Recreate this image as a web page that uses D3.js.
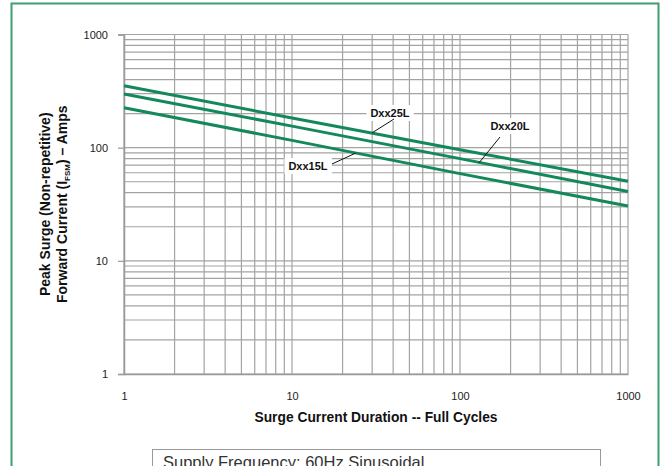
<!DOCTYPE html>
<html><head><meta charset="utf-8">
<script src="https://cdn.jsdelivr.net/npm/d3@7"></script>
<style>
html,body{margin:0;padding:0;background:#fff;}
svg{display:block;font-family:"Liberation Sans",Arial,Helvetica,sans-serif;}
</style></head>
<body><svg id="c" width="662" height="466"></svg>
<script>
// ---- data ----
const cycles = [1, 10, 100, 1000];
const seriesNames = ["Dxx25L", "Dxx20L", "Dxx15L"];
const dxx25L = [352, 183, 96, 50.5];
const dxx20L = [298, 155, 80, 41];
const dxx15L = [225, 116, 59, 30.5];
const xTickLabels = [1, 10, 100, 1000];
const yTickLabels = [1, 10, 100, 1000];
const noteText = "Supply Frequency: 60Hz Sinusoidal";

const svg = d3.select("#c");
const x = d3.scaleLog().domain([1, 1000]).range([124, 628]);
const y = d3.scaleLog().domain([1, 1000]).range([374, 34.5]);

// outer green frame
svg.append("rect").attr("x", 11.5).attr("y", 3.5).attr("width", 647).attr("height", 480)
  .attr("fill", "none").attr("stroke", "#3f9e70").attr("stroke-width", 2);

// grid
const g = svg.append("g");
g.selectAll("line.vx").data(x.ticks()).join("line")
  .attr("x1", d => x(d)).attr("x2", d => x(d))
  .attr("y1", y(1000)).attr("y2", y(1))
  .attr("stroke", "#a3a3a3").attr("stroke-width", 1.2);
g.selectAll("line.hy").data(y.ticks()).join("line")
  .attr("y1", d => y(d)).attr("y2", d => y(d))
  .attr("x1", x(1)).attr("x2", x(1000))
  .attr("stroke", "#a3a3a3").attr("stroke-width", 1.2);

// axes
const yAxis = d3.axisLeft(y).tickValues(yTickLabels).tickFormat(d3.format("d")).tickSize(6).tickPadding(10);
const ya = svg.append("g").attr("transform", `translate(${x(1)},0)`).call(yAxis);
ya.select(".domain").attr("stroke", "#999").attr("stroke-width", 1.5);
ya.selectAll(".tick line").attr("stroke", "#999").attr("stroke-width", 1.2);
ya.selectAll("text").attr("font-size", 11).attr("fill", "#222");

const xAxis = d3.axisBottom(x).tickValues(xTickLabels).tickFormat(d3.format("d")).tickSize(0).tickPadding(18);
const xa = svg.append("g").attr("transform", `translate(0,${y(1)})`).call(xAxis);
xa.select(".domain").attr("stroke", "#999").attr("stroke-width", 1.5);
xa.selectAll("text").attr("font-size", 11).attr("fill", "#222");

// series lines
const allSeries = [dxx25L, dxx20L, dxx15L];
const line = d3.line().x((d, i) => x(cycles[i])).y(d => y(d));
svg.append("g").selectAll("path").data(allSeries).join("path")
  .attr("d", d => line(d)).attr("fill", "none")
  .attr("stroke", "#13885a").attr("stroke-width", 3);

// series labels with leaders
const labelPos = [
  {t: seriesNames[0], cx: 390, cy: 113, lx1: 394, ly1: 119, px: 30},
  {t: seriesNames[1], cx: 510, cy: 126, lx1: 500, ly1: 137, px: 130},
  {t: seriesNames[2], cx: 308, cy: 166, lx1: 332, ly1: 164, px: 24}
];
const logInterp = d3.scaleLog().domain([1, 1000]).range([0, 1]);
labelPos.forEach((p, i) => {
  const lg = svg.append("g");
  const tx = lg.append("text").attr("x", p.cx).attr("y", p.cy + 4)
    .attr("text-anchor", "middle").attr("font-size", 11).attr("font-weight", "bold")
    .attr("fill", "#111").text(p.t);
  const bb = tx.node().getBBox();
  lg.insert("rect", "text").attr("x", bb.x - 4).attr("y", bb.y - 2)
    .attr("width", bb.width + 8).attr("height", bb.height + 4).attr("fill", "#fff");
  const s = allSeries[i];
  const f = logInterp(p.px);
  const lv = Math.log10(s[0]) + f * (Math.log10(s[3]) - Math.log10(s[0]));
  const lx = x(p.px), ly = y(Math.pow(10, lv));
  lg.append("line").attr("x1", p.lx1).attr("y1", p.ly1).attr("x2", lx).attr("y2", ly)
    .attr("stroke", "#111").attr("stroke-width", 1);
});

// axis titles
svg.append("text").attr("x", (x(1) + x(1000)) / 2).attr("y", 422)
  .attr("text-anchor", "middle").attr("font-size", 13.8).attr("font-weight", "bold")
  .attr("fill", "#111").text("Surge Current Duration -- Full Cycles");

const yt = svg.append("g").attr("transform", `translate(0,${(y(1) + y(1000)) / 2}) rotate(-90)`);
yt.append("text").attr("x", 0).attr("y", 50).attr("text-anchor", "middle")
  .attr("font-size", 14).attr("font-weight", "bold").attr("fill", "#111")
  .text("Peak Surge (Non-repetitive)");
const t2 = yt.append("text").attr("x", 0).attr("y", 67).attr("text-anchor", "middle")
  .attr("font-size", 14).attr("font-weight", "bold").attr("fill", "#111");
t2.append("tspan").text("Forward Current (I");
t2.append("tspan").attr("font-size", 8).attr("dy", 3).text("FSM");
t2.append("tspan").attr("dy", -3).text(") \u2013 Amps");

// note box
svg.append("rect").attr("x", 152.5).attr("y", 449.5).attr("width", 448).attr("height", 40)
  .attr("fill", "#fff").attr("stroke", "#999").attr("stroke-width", 1);
svg.append("text").attr("x", 163).attr("y", 468).attr("font-size", 16.5)
  .attr("fill", "#333").text(noteText);
</script></body></html>
